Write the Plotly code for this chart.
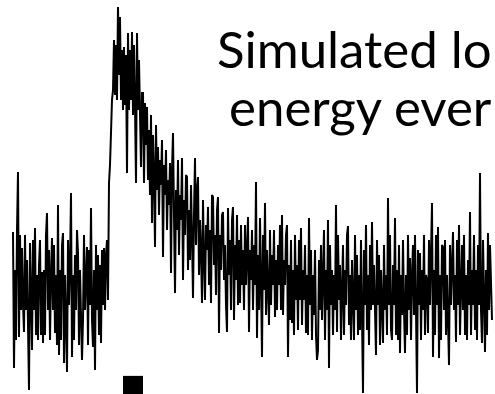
import plotly.graph_objects as go

# Simulated trace, one value per sample (arbitrary amplitude units):
# baseline noise, a fast rise to the event peak, then a slow decay back to baseline.
trace_amplitude = [
    58, -78, 20, -50, 60, 118, -47, 55, -20, 42,
    -15, -42, 55, -20, 30, -55, -100, 47, -15, -60,
    50, -20, 62, -45, 15, -50, 25, 50, -45, 18,
    -53, 20, -45, 55, 77, -20, 40, -50, 15, 52,
    -20, 45, -43, 15, -55, 85, -65, 20, -50, 45,
    57, -73, 15, -30, -82, 50, -15, 25, 97, -67,
    15, -50, 35, -20, 60, 37, -55, 20, -15, -70,
    -30, 55, -20, 15, 43, -55, 40, -15, 82, -30,
    -57, 20, -80, 45, -20, 35, -45, 25, -53, 40,
    -15, 42, -20, 35, 50, -10, 107, 125, 170, 190,
    200, 250, 195, 245, 190, 283, 215, 273, 190, 240,
    180, 243, 185, 235, 117, 257, 180, 240, 190, 258,
    175, 245, 185, 107, 257, 180, 230, 165, 123, 197,
    197, 107, 187, 145, 183, 110, 160, 95, 175, 67,
    155, 115, 43, 165, 100, 143, 75, 130, 105, 150,
    33, 125, 95, 140, 60, 110, 85, 127, 17, 120,
    157, 75, -3, 100, 60, 130, 35, 95, 70, 132,
    10, 90, 55, 115, 113, 20, 80, 30, 105, 55,
    -8, 75, 132, 45, 100, 113, 15, 70, 40, -13,
    90, 30, -10, 65, 40, 83, 5, 60, -13, 95,
    93, 25, 55, -5, 80, 93, -43, 55, 20, 75,
    78, 10, 45, -15, -42, 82, 15, 50, -20, 70,
    83, -30, 45, 10, 75, -15, 50, -13, 65, 5,
    40, -20, 65, 5, 35, 73, -42, 40, 10, 60,
    -20, 45, 5, 108, -48, 35, -20, 72, 10, -67,
    55, 0, 87, -25, 40, 10, -35, 60, -15, 35,
    5, 60, -27, 30, -20, 45, 5, 65, -20, 75,
    -25, 30, 5, 55, 65, -67, 25, -30, 50, -33,
    20, -45, 55, -10, 25, -40, 50, -10, 62, -35,
    20, -10, 45, -43, 15, -45, 72, -15, 40, -50,
    15, -25, 40, -45, -70, -60, 30, -20, 45, -30,
    10, 60, -50, 20, -20, 70, -78, 45, -15, 20,
    -45, 15, -20, 85, -42, 55, -10, 25, -50, 20,
    45, -45, 20, -15, 55, 64, -35, 15, -50, 30,
    -15, -50, 55, -20, 35, -45, 15, -40, 50, -10,
    -103, 40, -15, 65, -40, 15, -55, 45, -20, 68,
    -15, 25, -45, -65, 50, -15, 35, -55, 20, -15,
    -53, 45, -20, 15, -45, 92, -15, 55, -40, -50,
    25, -15, 72, -45, 20, -50, 45, -63, 15, -25,
    50, -20, -63, 15, -45, 55, -20, 32, -50, 15,
    45, -25, 55, -20, -103, 40, -15, 37, -50, 20,
    -20, 55, -45, 15, 10, -43, 50, -15, 30, 87,
    -67, 20, -45, 55, -15, 63, -68, 15, -50, 45,
    43, -20, 50, -45, 15, -20, -75, 45, -15, 25,
    58, -20, 15, -52, 50, -15, 65, -45, 20, 45,
    -20, 55, -45, 15, -50, 30, -15, 78, -45, 20,
    -15, 55, -40, 20, -50, 45, -15, 117, -20, -53,
    50, -15, -62, 20, -45, 57, -20, 45, -15, -30,
]
sample_index = list(range(len(trace_amplitude)))

# Sample range marked by the stimulus bar under the trace
stimulus_window = [110, 130]

title_lines = ["Simulated lo", "energy ever"]

fig = go.Figure()
fig.add_trace(go.Scatter(
    x=sample_index,
    y=trace_amplitude,
    mode="lines",
    line=dict(color="#000000", width=2),
    hoverinfo="skip",
    showlegend=False,
))

# Stimulus marker at the bottom edge
fig.add_shape(
    type="rect",
    xref="x", yref="paper",
    x0=stimulus_window[0], x1=stimulus_window[1],
    y0=0, y1=0.046,
    fillcolor="#000000", line=dict(width=0),
)

title_font = dict(family="Lato", size=51, color="#000000")
fig.add_annotation(
    text=title_lines[0], xref="paper", yref="paper",
    x=0.434, y=1 - 48 / 394, xanchor="left", yanchor="middle",
    showarrow=False, font=title_font,
)
fig.add_annotation(
    text=title_lines[1], xref="paper", yref="paper",
    x=0.458, y=1 - 106 / 394, xanchor="left", yanchor="middle",
    showarrow=False, font=title_font,
)

fig.update_layout(
    width=495, height=394,
    margin=dict(l=0, r=0, t=0, b=0),
    paper_bgcolor="#ffffff", plot_bgcolor="#ffffff",
    xaxis=dict(visible=False, range=[-13, 482]),
    yaxis=dict(visible=False, range=[-104, 290]),
)

fig.write_html("out.html")
